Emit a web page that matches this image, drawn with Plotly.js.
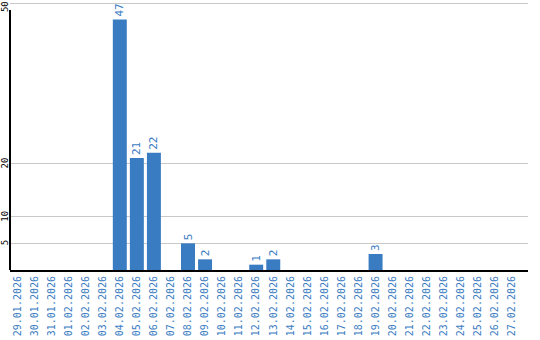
<!DOCTYPE html>
<html><head><meta charset="utf-8">
<script src="https://cdn.plot.ly/plotly-3.0.1.min.js"></script>
<style>html,body{margin:0;padding:0;background:#fff}#c{width:540px;height:340px}</style>
</head><body><div id="c"></div>
<script>
const dates = ["29.01.2026","30.01.2026","31.01.2026","01.02.2026","02.02.2026","03.02.2026","04.02.2026","05.02.2026","06.02.2026","07.02.2026","08.02.2026","09.02.2026","10.02.2026","11.02.2026","12.02.2026","13.02.2026","14.02.2026","15.02.2026","16.02.2026","17.02.2026","18.02.2026","19.02.2026","20.02.2026","21.02.2026","22.02.2026","23.02.2026","24.02.2026","25.02.2026","26.02.2026","27.02.2026"];
const counts = [0,0,0,0,0,0,47,21,22,0,5,2,0,0,1,2,0,0,0,0,0,3,0,0,0,0,0,0,0,0];
const yTicks = [5,10,20,50];

const labels = counts.map(v => v > 0 ? String(v) : "");
const blue = "#3a7cc2";
const yMax = 50.3;
const trace = {
  type: "bar", x: dates, y: counts,
  marker: {color: blue},
  text: labels, textposition: "outside", textangle: -90,
  textfont: {family: "DejaVu Sans Mono", size: 11, color: blue},
  constraintext: "none", cliponaxis: false, hoverinfo: "none"
};
const yLabelAnn = yTicks.map(v => {
  const nearTop = v > yMax - 1;
  return {
    xref: "paper", yref: "y", x: 0, y: v, xshift: -5,
    xanchor: "center", yanchor: nearTop ? "top" : "middle", yshift: nearTop ? 4 : 0,
    textangle: -90, showarrow: false,
    text: String(v), font: {family: "DejaVu Sans Mono", size: 9, color: "#000"}
  };
});
const layout = {
  width: 540, height: 340,
  margin: {l: 10, r: 12, t: 2, b: 70},
  paper_bgcolor: "#fff", plot_bgcolor: "#fff",
  showlegend: false, bargap: 0.18,
  xaxis: {
    type: "category", range: [-0.44, 29.94],
    tickangle: -90, ticks: "", showgrid: false, zeroline: false,
    showline: true, linecolor: "#000", linewidth: 2,
    tickfont: {family: "DejaVu Sans Mono", size: 10, color: blue}
  },
  yaxis: {
    range: [0, yMax], tickvals: yTicks, showticklabels: false,
    ticks: "", showline: false, zeroline: false,
    gridcolor: "#c8c8c8", gridwidth: 1
  },
  annotations: yLabelAnn,
  shapes: [{type: "line", xref: "paper", yref: "y", x0: 0, x1: 0, y0: 0, y1: 48.8,
            line: {color: "#000", width: 2}}]
};
Plotly.newPlot("c", [trace], layout, {staticPlot: true});
</script></body></html>
